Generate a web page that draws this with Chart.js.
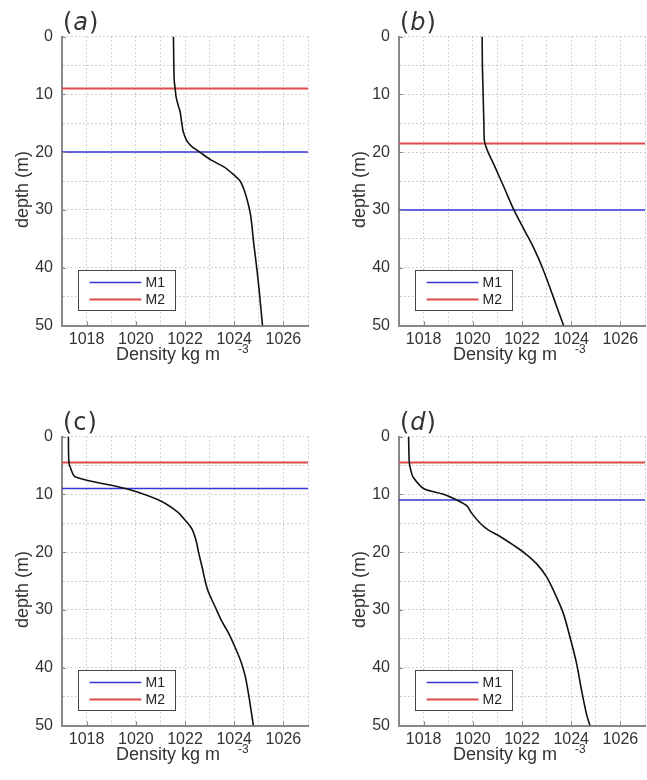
<!DOCTYPE html>
<html>
<head>
<meta charset="utf-8">
<script src="https://cdn.jsdelivr.net/npm/chart.js@4.4.1/dist/chart.umd.min.js"></script>
<style>
body { margin:0; background:#fff; width:647px; height:780px; overflow:hidden; position:relative; }
canvas { position:absolute; }
</style>
</head>
<body>
<canvas id="pa" width="312" height="380" style="left:0;top:0"></canvas>
<canvas id="pb" width="312" height="380" style="left:337px;top:0"></canvas>
<canvas id="pc" width="312" height="380" style="left:0;top:400px"></canvas>
<canvas id="pd" width="312" height="380" style="left:337px;top:400px"></canvas>
<script>
// density profiles (depth in m, density in kg m^-3)
var depthA = [0,7.5,9,10.5,12,13,15,16.5,18,19,20,21.4,22.6,24,25,26.5,28.3,31,36,40.5,45,50];
var densityA = [1021.53,1021.56,1021.6,1021.64,1021.73,1021.8,1021.87,1021.93,1022.07,1022.27,1022.6,1023.07,1023.6,1024.0,1024.24,1024.4,1024.53,1024.67,1024.8,1024.93,1025.04,1025.15];

var depthB = [0,5,10,15,18,19,20,22,24,26,28,30,32,34,36,38,40,42,44,46,48,50];
var densityB = [1020.38,1020.39,1020.42,1020.45,1020.47,1020.53,1020.62,1020.84,1021.05,1021.26,1021.46,1021.67,1021.91,1022.16,1022.41,1022.63,1022.83,1023.01,1023.18,1023.35,1023.52,1023.69];

var depthC = [0,4.5,5.5,7,9,11,13,14.5,16,18,20,22.5,25,27,29.5,32,34,36.5,39,41.5,44.5,47.5,50];
var densityC = [1017.26,1017.28,1017.35,1017.55,1019.58,1020.93,1021.68,1022.01,1022.28,1022.45,1022.55,1022.69,1022.82,1022.96,1023.23,1023.5,1023.77,1024.04,1024.28,1024.45,1024.58,1024.69,1024.78];

var depthD = [0,4.5,6,7,9,10,11,12,13.3,15,16.2,17.3,18.8,20.2,22,24.3,27.2,30.6,34.7,39.3,43.9,48,50];
var densityD = [1017.39,1017.42,1017.49,1017.57,1018.0,1018.81,1019.35,1019.76,1019.96,1020.3,1020.64,1021.11,1021.65,1022.12,1022.59,1023.0,1023.34,1023.68,1023.95,1024.22,1024.42,1024.62,1024.76];

// mixed layer depths for each panel
var m1Depth = [20, 30, 9, 11];
var m2Depth = [9, 18.5, 4.5, 4.5];

var panelNames = ['a', 'b', 'c', 'd'];
var xRange = [1017, 1027];
var yRange = [0, 50];
var xTickLabels = [1018, 1020, 1022, 1024, 1026];
var yTickLabels = [0, 10, 20, 30, 40, 50];
var xTitle = 'Density kg m';
var xTitleSup = '-3';
var yTitle = 'depth (m)';

Chart.defaults.font.family = '"Liberation Sans", Arial, Helvetica, sans-serif';
Chart.defaults.color = '#333';

var decor = {
  id: 'decor',
  afterDraw: function(chart) {
    var ctx = chart.ctx, a = chart.chartArea;
    var xs = chart.scales.x, ys = chart.scales.y;
    var o = chart.options.plugins.decor;
    ctx.save();

    // ticks pointing inward
    ctx.strokeStyle = '#888';
    ctx.lineWidth = 1;
    ctx.beginPath();
    xTickLabels.forEach(function(v) {
      var px = Math.round(xs.getPixelForValue(v)) + 0.5;
      ctx.moveTo(px, a.bottom);
      ctx.lineTo(px, a.bottom - 4);
    });
    yTickLabels.forEach(function(v) {
      var py = Math.round(ys.getPixelForValue(v)) + 0.5;
      ctx.moveTo(a.left, py);
      ctx.lineTo(a.left + 4, py);
    });
    ctx.stroke();

    // x axis title with superscript
    ctx.fillStyle = '#333';
    ctx.textBaseline = 'alphabetic';
    ctx.textAlign = 'left';
    ctx.font = '18px "Liberation Sans", Arial, sans-serif';
    ctx.fillText(xTitle, a.left + 54, a.bottom + 34);
    ctx.font = '12px "Liberation Sans", Arial, sans-serif';
    ctx.fillText(xTitleSup, a.left + 176, a.bottom + 27);

    // y axis title
    ctx.save();
    ctx.translate(a.left - 39, a.top + 153);
    ctx.rotate(-Math.PI / 2);
    ctx.textAlign = 'center';
    ctx.textBaseline = 'middle';
    ctx.font = '18px "Liberation Sans", Arial, sans-serif';
    ctx.fillText(yTitle, 0, 0);
    ctx.restore();

    // panel label
    var lx = a.left + 1, ly = a.top - 7;
    ctx.textAlign = 'left';
    ctx.textBaseline = 'alphabetic';
    ctx.font = '24px "DejaVu Sans", sans-serif';
    ctx.fillText('(', lx, ly);
    lx += ctx.measureText('(').width + 1;
    ctx.font = (o.italic ? 'italic ' : '') + '24px "DejaVu Sans", sans-serif';
    ctx.fillText(o.name, lx, ly);
    lx += ctx.measureText(o.name).width + 1;
    ctx.font = '24px "DejaVu Sans", sans-serif';
    ctx.fillText(')', lx, ly);

    // legend box
    var bx = Math.round(a.left + 16) + 0.5, by = Math.round(a.bottom - 55.5) + 0.5;
    ctx.fillStyle = '#fff';
    ctx.fillRect(bx, by, 97, 40);
    ctx.strokeStyle = '#444';
    ctx.lineWidth = 1;
    ctx.strokeRect(bx, by, 97, 40);
    ctx.font = '14px "Liberation Sans", Arial, sans-serif';
    ctx.textBaseline = 'middle';
    [1, 2].forEach(function(di, k) {
      var ds = chart.data.datasets[di];
      var yy = by + 12 + k * 17;
      ctx.strokeStyle = ds.borderColor;
      ctx.lineWidth = ds.borderWidth;
      ctx.beginPath();
      ctx.moveTo(bx + 11, yy);
      ctx.lineTo(bx + 63, yy);
      ctx.stroke();
      ctx.fillStyle = '#222';
      ctx.fillText(ds.label, bx + 67, yy + 1);
    });
    ctx.restore();
  }
};

function makePanel(id, idx, depth, density) {
  var profile = depth.map(function(d, i) { return { x: density[i], y: d }; });
  new Chart(document.getElementById(id), {
    type: 'scatter',
    data: {
      datasets: [
        { label: 'profile', data: profile, showLine: true, borderColor: '#111', borderWidth: 1.6,
          pointRadius: 0, tension: 0.3, order: 0 },
        { label: 'M1', data: [{ x: xRange[0], y: m1Depth[idx] }, { x: xRange[1], y: m1Depth[idx] }],
          showLine: true, borderColor: '#3434d6', borderWidth: 1.5, pointRadius: 0, order: 1 },
        { label: 'M2', data: [{ x: xRange[0], y: m2Depth[idx] }, { x: xRange[1], y: m2Depth[idx] }],
          showLine: true, borderColor: '#e04a4a', borderWidth: 2, pointRadius: 0, order: 2 }
      ]
    },
    options: {
      responsive: false,
      animation: false,
      layout: { padding: { left: 0, top: 36.5, right: 2, bottom: 0 } },
      plugins: {
        legend: { display: false },
        tooltip: { enabled: false },
        decor: { name: panelNames[idx], italic: idx !== 2 }
      },
      scales: {
        x: {
          type: 'linear', min: xRange[0], max: xRange[1],
          afterFit: function(s) { s.height = 54.5; },
          grid: { color: '#c4c4c4', lineWidth: 1, drawTicks: false },
          border: { color: '#888', width: 2, dash: [1.5, 2.5] },
          ticks: {
            stepSize: 1, autoSkip: false, maxRotation: 0, padding: 4,
            font: { size: 16 }, color: '#333',
            callback: function(v) { return xTickLabels.indexOf(v) >= 0 ? String(v) : ''; }
          }
        },
        y: {
          type: 'linear', reverse: true, min: yRange[0], max: yRange[1],
          afterFit: function(s) { s.width = 62; },
          grid: { color: '#c4c4c4', lineWidth: 1, drawTicks: false },
          border: { color: '#888', width: 2, dash: [1.5, 2.5] },
          ticks: {
            stepSize: 5, autoSkip: false, padding: 9,
            font: { size: 16 }, color: '#333',
            callback: function(v) { return yTickLabels.indexOf(v) >= 0 ? String(v) : ''; }
          }
        }
      }
    },
    plugins: [decor]
  });
}

makePanel('pa', 0, depthA, densityA);
makePanel('pb', 1, depthB, densityB);
makePanel('pc', 2, depthC, densityC);
makePanel('pd', 3, depthD, densityD);
</script>
</body>
</html>
